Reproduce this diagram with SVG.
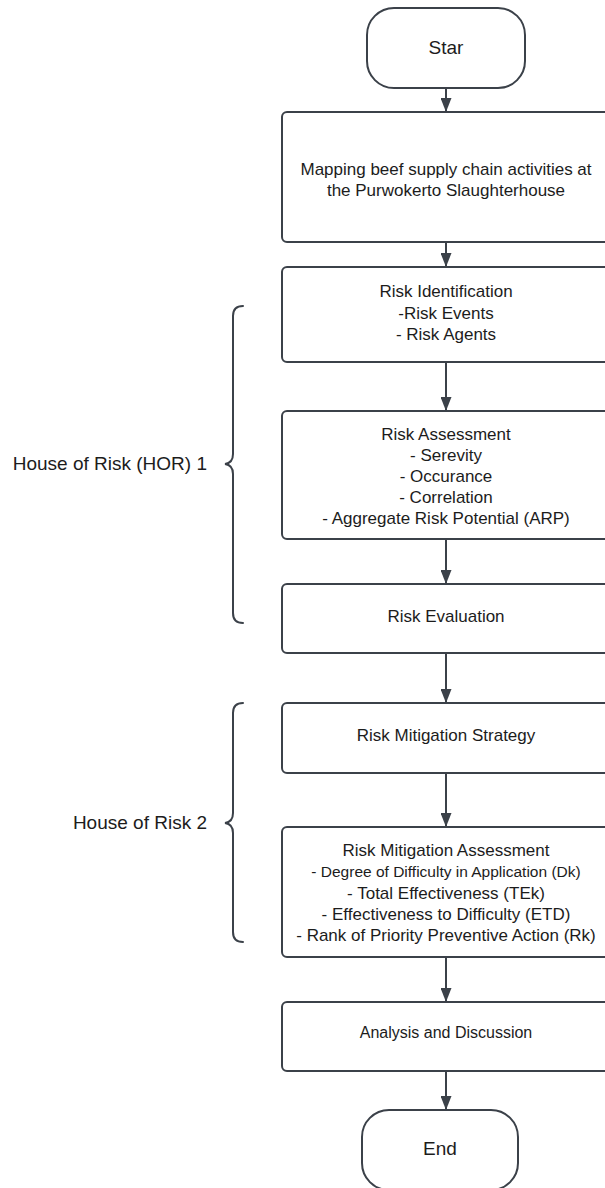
<svg xmlns="http://www.w3.org/2000/svg" width="605" height="1188" viewBox="0 0 605 1188">
  <style>
    .box { fill: #ffffff; stroke: #3b4149; stroke-width: 2; }
    .conn { stroke: #3b4149; stroke-width: 2; fill: none; }
    .brace { stroke: #3b4149; stroke-width: 2; fill: none; stroke-linecap: round; }
    text { font-family: "Liberation Sans", Arial, sans-serif; fill: #1c1c1c; text-anchor: middle; }
    .t { font-size: 17px; }
    .ts { font-size: 15.5px; }
    .tt { font-size: 19px; }
    .lbl { font-size: 19px; text-anchor: end; }
  </style>
  <defs>
    <marker id="arrow" viewBox="0 0 14 11" refX="14" refY="5.5" markerWidth="14" markerHeight="11" markerUnits="userSpaceOnUse" orient="auto">
      <path d="M0,0 L14,5.5 L0,11 z" fill="#3b4149"/>
    </marker>
  </defs>
  <rect width="605" height="1188" fill="#ffffff"/>

  <g id="connectors">
    <line class="conn" x1="446" y1="88" x2="446" y2="112" marker-end="url(#arrow)"/>
    <line class="conn" x1="446" y1="242" x2="446" y2="267" marker-end="url(#arrow)"/>
    <line class="conn" x1="446" y1="362" x2="446" y2="411" marker-end="url(#arrow)"/>
    <line class="conn" x1="446" y1="539" x2="446" y2="584" marker-end="url(#arrow)"/>
    <line class="conn" x1="446" y1="653" x2="446" y2="703" marker-end="url(#arrow)"/>
    <line class="conn" x1="446" y1="773" x2="446" y2="827" marker-end="url(#arrow)"/>
    <line class="conn" x1="446" y1="957" x2="446" y2="1002" marker-end="url(#arrow)"/>
    <line class="conn" x1="446" y1="1071" x2="446" y2="1110" marker-end="url(#arrow)"/>
  </g>

  <g id="start">
    <rect class="box" x="367" y="8" width="158" height="80" rx="27" ry="27"/>
    <text class="tt" x="446" y="54">Star</text>
  </g>

  <g id="mapping">
    <rect class="box" x="282" y="112" width="340" height="130" rx="5"/>
    <text class="t" x="446" y="175">Mapping beef supply chain activities at</text>
    <text class="t" x="446" y="196">the Purwokerto Slaughterhouse</text>
  </g>

  <g id="risk-identification">
    <rect class="box" x="282" y="267" width="340" height="95" rx="5"/>
    <text class="t" x="446" y="297">Risk Identification</text>
    <text class="t" x="446" y="319">-Risk Events</text>
    <text class="t" x="446" y="340">- Risk Agents</text>
  </g>

  <g id="risk-assessment">
    <rect class="box" x="282" y="411" width="340" height="128" rx="5"/>
    <text class="t" x="446" y="440">Risk Assessment</text>
    <text class="t" x="446" y="461">- Serevity</text>
    <text class="t" x="446" y="482">- Occurance</text>
    <text class="t" x="446" y="503">- Correlation</text>
    <text class="t" x="446" y="524">- Aggregate Risk Potential (ARP)</text>
  </g>

  <g id="risk-evaluation">
    <rect class="box" x="282" y="584" width="340" height="69" rx="5"/>
    <text class="t" x="446" y="622">Risk Evaluation</text>
  </g>

  <g id="risk-mitigation-strategy">
    <rect class="box" x="282" y="703" width="340" height="70" rx="5"/>
    <text class="t" x="446" y="741">Risk Mitigation Strategy</text>
  </g>

  <g id="risk-mitigation-assessment">
    <rect class="box" x="282" y="827" width="340" height="130" rx="5"/>
    <text class="t" x="446" y="856">Risk Mitigation Assessment</text>
    <text class="ts" x="446" y="877">- Degree of Difficulty in Application (Dk)</text>
    <text class="t" x="446" y="899">- Total Effectiveness (TEk)</text>
    <text class="t" x="446" y="920">- Effectiveness to Difficulty (ETD)</text>
    <text class="t" x="446" y="941">- Rank of Priority Preventive Action (Rk)</text>
  </g>

  <g id="analysis">
    <rect class="box" x="282" y="1002" width="340" height="69" rx="5"/>
    <text class="t" x="446" y="1038" style="font-size:16px">Analysis and Discussion</text>
  </g>

  <g id="end">
    <rect class="box" x="362" y="1110" width="156" height="80" rx="27" ry="27"/>
    <text class="tt" x="440" y="1155">End</text>
  </g>

  <g id="hor1">
    <path class="brace" d="M243,306 Q233,306 233,316 L233,454 Q233,463 225,464 Q233,465 233,474 L233,613 Q233,623 243,623"/>
    <text class="lbl" x="207" y="470">House of Risk (HOR) 1</text>
  </g>

  <g id="hor2">
    <path class="brace" d="M243,703 Q233,703 233,713 L233,813 Q233,822 225,823 Q233,824 233,833 L233,932 Q233,942 243,942"/>
    <text class="lbl" x="207" y="829">House of Risk 2</text>
  </g>
</svg>
